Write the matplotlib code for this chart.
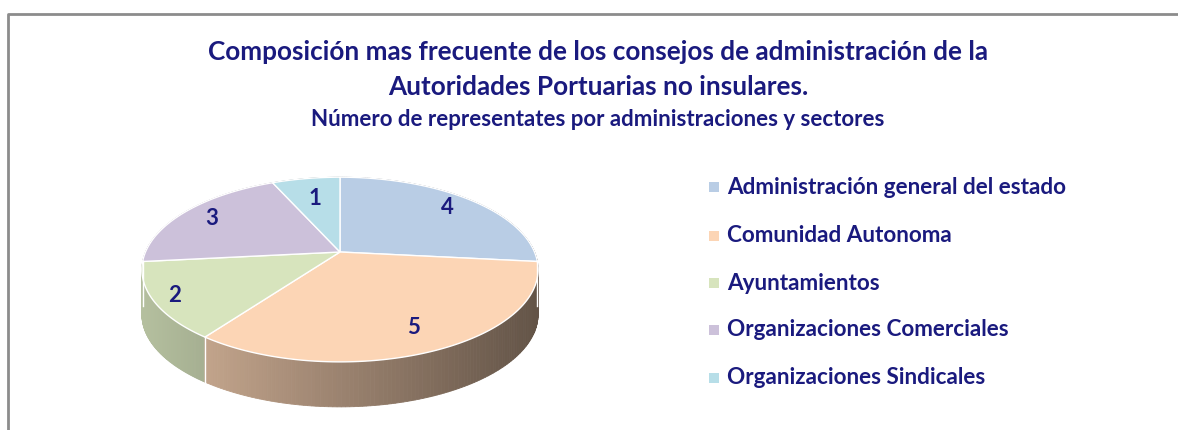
import numpy as np
import matplotlib.pyplot as plt
from matplotlib.patches import Polygon, Rectangle
import matplotlib.colors as mcolors

# data
categories = ['Administración general del estado', 'Comunidad Autonoma',
              'Ayuntamientos', 'Organizaciones Comerciales',
              'Organizaciones Sindicales']
values = [4, 5, 2, 3, 1]
colors = ['#b9cde5', '#fcd5b5', '#d7e4bd', '#ccc1da', '#b7dee8']

title1 = 'Composición mas frecuente de los consejos de administración de la'
title2 = 'Autoridades Portuarias no insulares.'
subtitle = 'Número de representates por administraciones y sectores'

navy = '#1a1a7e'
plt.rcParams['font.family'] = ['Lato', 'DejaVu Sans']

fig = plt.figure(figsize=(11.78, 4.30), dpi=100)
ax = fig.add_axes([0, 0, 1, 1])
ax.set_xlim(0, 1178)
ax.set_ylim(430, 0)
ax.axis('off')

# frame (top and left edges visible)
ax.plot([8, 8, 1178], [430, 14, 14], color='#8c8c8c', lw=2, solid_capstyle='butt')

# 3d pie geometry (pixel space, simple perspective)
cx, cy = 340, 252
A, B, k = 89, 194.5, 0.19
depth = 45


def proj(t, r=1.0):
    u, v = r * np.cos(t), r * np.sin(t)
    d = 1 + k * v
    return cx + B * u / d, cy - A * v / d


def shade(x):
    return 0.84 - 0.45 * np.clip((x - 143) / 395, 0, 1)


frac = np.array(values) / sum(values)
bounds = np.pi / 2 - 2 * np.pi * np.concatenate([[0], np.cumsum(frac)])

# side walls
quads = []
for i, col in enumerate(colors):
    rgb = np.array(mcolors.to_rgb(col))
    ts = np.linspace(bounds[i], bounds[i + 1], 120)
    for t0, t1 in zip(ts[:-1], ts[1:]):
        x0, y0 = proj(t0)
        x1, y1 = proj(t1)
        c = rgb * shade((x0 + x1) / 2)
        quads.append((np.sin((t0 + t1) / 2),
                      [(x0, y0), (x1, y1), (x1, y1 + depth), (x0, y0 + depth)], c))
quads.sort(key=lambda q: -q[0])
for _, pts, c in quads:
    ax.add_patch(Polygon(pts, closed=True, facecolor=c, edgecolor=c, lw=0.6))

# white seams on side at slice boundaries
for b in bounds[:-1]:
    if np.sin(b) < -0.1:
        x, y = proj(b)
        ax.plot([x, x], [y, y + depth], color='white', lw=1)

# top faces
for i, col in enumerate(colors):
    ts = np.linspace(bounds[i], bounds[i + 1], 200)
    xs, ys = proj(ts)
    pts = [(cx, cy)] + list(zip(xs, ys))
    ax.add_patch(Polygon(pts, closed=True, facecolor=col, edgecolor='white', lw=1))

# value labels
label_r = [0.82, 0.8, 0.9, 0.82, 0.7]
for i, v in enumerate(values):
    tm = (bounds[i] + bounds[i + 1]) / 2
    x, y = proj(tm, label_r[i])
    ax.text(x, y, str(v), ha='center', va='center', fontsize=16,
            fontweight='bold', color=navy)

# titles
ax.text(598, 52, title1, ha='center', va='center', fontsize=18.8,
        fontweight='bold', color=navy)
ax.text(598, 87, title2, ha='center', va='center', fontsize=18.8,
        fontweight='bold', color=navy)
ax.text(598, 119, subtitle, ha='center', va='center', fontsize=16,
        fontweight='bold', color=navy)

# legend
rows = [187, 236, 283, 330, 378]
for name, col, y in zip(categories, colors, rows):
    ax.add_patch(Rectangle((709, y - 5), 10, 10, facecolor=col, edgecolor='none'))
    ax.text(727, y, name, ha='left', va='center', fontsize=16.2,
            fontweight='bold', color=navy)

fig.savefig('out.png', dpi=100)
